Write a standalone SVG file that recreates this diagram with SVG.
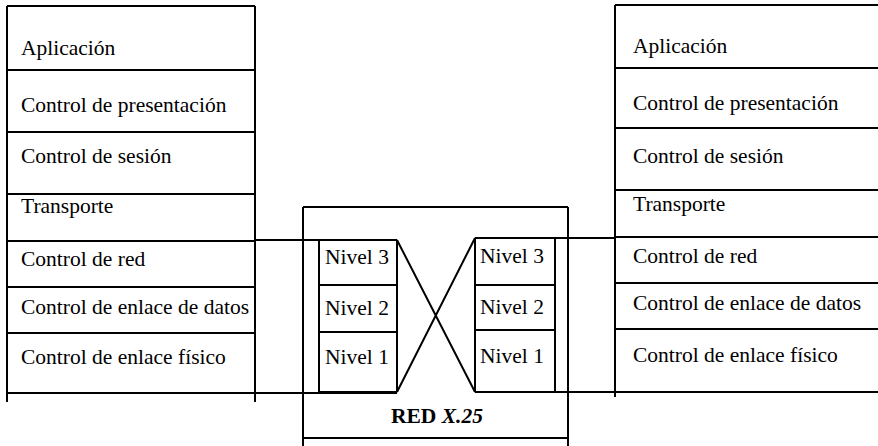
<svg xmlns="http://www.w3.org/2000/svg" width="878" height="446" viewBox="0 0 878 446">
<style>
.ln{stroke:#000;stroke-width:2;fill:none}
.t{font-family:'Liberation Serif','Times New Roman',Tinos,'DejaVu Serif',serif;font-size:21.5px;fill:#000}
.b{font-weight:bold}
</style>
<rect width="878" height="446" fill="#fff"/>
<g id="host-left">
  <path class="ln" d="M7 6V402M255 6V402M7 6H255M7 70H255M7 132H255M7 194H255M7 241H255M7 287H255M7 333H255M7 393H255"/>
  <text class="t" x="21" y="55">Aplicación</text>
  <text class="t" x="21" y="112">Control de presentación</text>
  <text class="t" x="21" y="163">Control de sesión</text>
  <text class="t" x="21" y="213">Transporte</text>
  <text class="t" x="21" y="266">Control de red</text>
  <text class="t" x="21" y="314">Control de enlace de datos</text>
  <text class="t" x="21" y="364">Control de enlace físico</text>
</g>
<g id="host-right">
  <path class="ln" d="M615 5V397M615 5H878M615 68H878M615 128H878M615 190H878M615 237H878M615 283H878M615 329H878M615 392H878"/>
  <text class="t" x="633" y="53">Aplicación</text>
  <text class="t" x="633" y="110">Control de presentación</text>
  <text class="t" x="633" y="163">Control de sesión</text>
  <text class="t" x="633" y="211">Transporte</text>
  <text class="t" x="633" y="263">Control de red</text>
  <text class="t" x="633" y="310">Control de enlace de datos</text>
  <text class="t" x="633" y="362">Control de enlace físico</text>
</g>
<g id="red-x25">
  <path class="ln" d="M303 207V446M568 207V446M303 207H568M303 438H568"/>
  <text class="t b" x="437" y="423" text-anchor="middle">RED <tspan font-style="italic">X.25</tspan></text>
</g>
<g id="nodo-izq">
  <path class="ln" d="M319 240V392M397 240V392M319 285H397M319 332H397M319 392H397"/>
  <text class="t" x="325" y="264">Nivel 3</text>
  <text class="t" x="325" y="315">Nivel 2</text>
  <text class="t" x="325" y="364">Nivel 1</text>
</g>
<g id="nodo-der">
  <path class="ln" d="M475 238V392M555 238V392M475 285H555M475 330H555M475 392H555"/>
  <text class="t" x="480" y="263">Nivel 3</text>
  <text class="t" x="480" y="314">Nivel 2</text>
  <text class="t" x="480" y="363">Nivel 1</text>
</g>
<g id="connectors">
  <path class="ln" d="M255 240H397M255 393H397M397 240L475 392M397 392L475 238M475 238H615M475 392H615"/>
</g>
</svg>
